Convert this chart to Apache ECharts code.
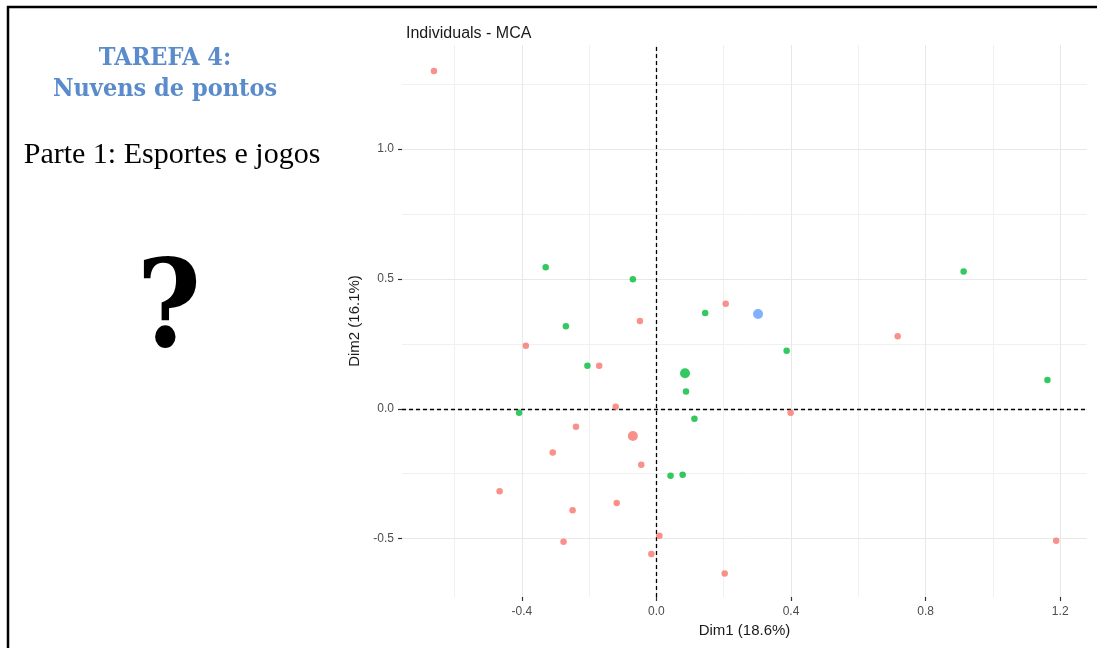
<!DOCTYPE html>
<html><head><meta charset="utf-8">
<script src="https://cdn.jsdelivr.net/npm/echarts@6/dist/echarts.min.js"></script>
<style>html,body{margin:0;padding:0;background:#fff}#c{width:1097px;height:648px}</style>
</head><body><div id="c"></div><script>
// Individuals (Dim1, Dim2)
const redPoints = [
  [-0.661, 1.301], [-0.049, 0.338], [-0.388, 0.243], [-0.170, 0.166], [-0.121, 0.008],
  [-0.239, -0.069], [-0.308, -0.168], [-0.045, -0.215], [-0.466, -0.317], [-0.118, -0.363],
  [-0.249, -0.391], [-0.276, -0.512], [0.009, -0.489], [-0.015, -0.559], [0.203, -0.634],
  [0.206, 0.405], [0.399, -0.015], [0.717, 0.279], [1.188, -0.508]
];
const redMean = [[-0.070, -0.105]];
const greenPoints = [
  [-0.329, 0.545], [-0.070, 0.499], [-0.269, 0.318], [-0.205, 0.166], [-0.408, -0.015],
  [0.042, -0.258], [0.078, -0.254], [0.145, 0.369], [0.387, 0.224], [0.088, 0.067],
  [0.113, -0.038], [0.913, 0.529], [1.162, 0.111]
];
const greenMean = [[0.085, 0.137]];
const bluePoints = [[0.302, 0.365]];

const xTicks = [-0.4, 0.0, 0.4, 0.8, 1.2];
const yTicks = [-0.5, 0.0, 0.5, 1.0];
const xGridMinor = [-0.6, -0.2, 0.2, 0.6, 1.0];
const yGridMinor = [-0.25, 0.25, 0.75, 1.25];

const xRange = [-0.756, 1.2796];
const yRange = [-0.7247, 1.401];

const RED = '#F8766D', GREEN = '#00BA38', BLUE = '#619CFF';
const fmt = v => (Math.abs(v) < 1e-9 ? 0 : v).toFixed(1);

const chart = echarts.init(document.getElementById('c'), null, {renderer: 'canvas'});

const gridLine = (arr, key, color) => arr.map(v => ({[key]: v, lineStyle: {color: color, width: 1, type: 'solid'}}));

chart.setOption({
  animation: false,
  backgroundColor: '#fff',
  grid: {left: 402, top: 45, right: 10, bottom: 51, containLabel: false},
  xAxis: {
    type: 'value', min: xRange[0], max: xRange[1],
    name: 'Dim1 (18.6%)', nameLocation: 'middle', nameGap: 23,
    nameTextStyle: {fontFamily: 'Liberation Sans', fontSize: 15, color: '#1a1a1a'},
    axisLine: {show: true, onZero: false, lineStyle: {color: 'rgba(0,0,0,0)'}},
    axisTick: {show: true, length: 4, lineStyle: {color: '#333', width: 1.2}, customValues: xTicks},
    axisLabel: {customValues: xTicks, formatter: fmt, fontFamily: 'Liberation Sans', fontSize: 12, color: '#4D4D4D', margin: 9},
    splitLine: {show: false}
  },
  yAxis: {
    type: 'value', min: yRange[0], max: yRange[1],
    name: 'Dim2 (16.1%)', nameLocation: 'middle', nameGap: 31,
    nameTextStyle: {fontFamily: 'Liberation Sans', fontSize: 15, color: '#1a1a1a'},
    axisLine: {show: true, onZero: false, lineStyle: {color: 'rgba(0,0,0,0)'}},
    axisTick: {show: true, length: 4, lineStyle: {color: '#333', width: 1.2}, customValues: yTicks},
    axisLabel: {customValues: yTicks, formatter: fmt, fontFamily: 'Liberation Sans', fontSize: 12, color: '#4D4D4D', margin: 8},
    splitLine: {show: false}
  },
  title: [
    {text: 'Individuals - MCA', left: 401, top: 21, textStyle: {fontFamily: 'Liberation Sans', fontSize: 16, fontWeight: 'normal', color: '#1a1a1a'}}
  ],
  graphic: [
    {type: 'line', shape: {x1: 7, y1: 7, x2: 1097, y2: 7}, style: {stroke: '#000', lineWidth: 2.5}, z: 100},
    {type: 'line', shape: {x1: 8, y1: 6, x2: 8, y2: 648}, style: {stroke: '#000', lineWidth: 2.5}, z: 100},
    {type: 'text', x: 165, y: 58, style: {text: 'TAREFA 4:', font: 'bold 25px "DejaVu Serif Condensed", "Liberation Serif"', fill: '#5A8BCB', textAlign: 'center', textVerticalAlign: 'middle'}},
    {type: 'text', x: 165, y: 89, style: {text: 'Nuvens de pontos', font: 'bold 25px "DejaVu Serif Condensed", "Liberation Serif"', fill: '#5A8BCB', textAlign: 'center', textVerticalAlign: 'middle'}},
    {type: 'text', x: 172, y: 155, style: {text: 'Parte 1: Esportes e jogos', font: '30px "Liberation Serif"', fill: '#000', textAlign: 'center', textVerticalAlign: 'middle'}},
    {type: 'text', x: 169, y: 314, style: {text: '?', font: 'bold 122px "DejaVu Serif Condensed", "DejaVu Serif"', fill: '#000', textAlign: 'center', textVerticalAlign: 'middle'}}
  ],
  series: [
    {type: 'scatter', data: [], silent: true, z: 1,
     markLine: {silent: true, z: 1, symbol: 'none', label: {show: false}, animation: false,
       data: [].concat(
         gridLine(xGridMinor, 'xAxis', '#F0F0F0'),
         gridLine(yGridMinor, 'yAxis', '#F0F0F0'),
         gridLine(xTicks, 'xAxis', '#E8E8E8'),
         gridLine(yTicks, 'yAxis', '#E8E8E8')
       )}},
    {type: 'scatter', data: [], silent: true, z: 2,
     markLine: {silent: true, z: 2, symbol: 'none', label: {show: false}, animation: false,
       lineStyle: {color: '#000', width: 1.3, type: [4, 3]},
       data: [{xAxis: 0}, {yAxis: 0}]}},
    {type: 'scatter', data: redPoints, symbolSize: 6.5, itemStyle: {color: RED}, z: 10},
    {type: 'scatter', data: greenPoints, symbolSize: 6.5, itemStyle: {color: GREEN}, z: 10},
    {type: 'scatter', data: redMean, symbolSize: 10, itemStyle: {color: RED}, z: 11},
    {type: 'scatter', data: greenMean, symbolSize: 10, itemStyle: {color: GREEN}, z: 11},
    {type: 'scatter', data: bluePoints, symbolSize: 10, itemStyle: {color: BLUE}, z: 11}
  ]
});
</script></body></html>
